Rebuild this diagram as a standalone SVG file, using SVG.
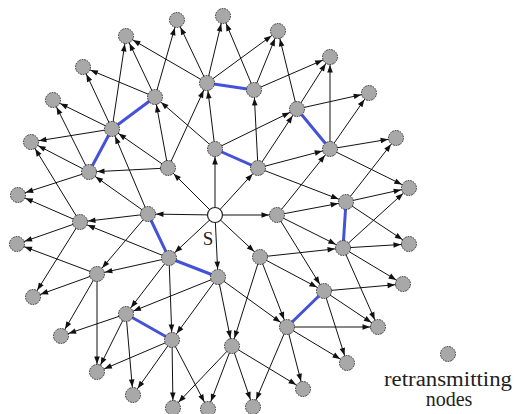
<svg xmlns="http://www.w3.org/2000/svg" width="515" height="414" viewBox="0 0 515 414">
<style>
.e{stroke:#111;stroke-width:1;fill:none;marker-end:url(#ah)}
.b{stroke:#4452d8;stroke-width:3;stroke-linecap:round}
.n{fill:#a8a8a8;stroke:#333;stroke-width:1;stroke-dasharray:1.6 1}
.s{fill:#fff;stroke:#222;stroke-width:1.2}
.t{font-family:"Liberation Serif","Times New Roman",serif;fill:#222}
</style>
<defs>
<marker id="ah" markerUnits="userSpaceOnUse" orient="auto" refX="0" refY="0" markerWidth="20" markerHeight="10" overflow="visible">
<path d="M-8,0 L-15.5,-2.8 L-15.5,2.8 Z" fill="#111"/>
</marker>
</defs>
<rect width="515" height="414" fill="#fff"/>
<g id="connectors">
<!-- S -->
<line class="e" x1="215" y1="215" x2="215" y2="149"/>
<line class="e" x1="215" y1="215" x2="258" y2="168"/>
<line class="e" x1="215" y1="215" x2="168" y2="168"/>
<line class="e" x1="215" y1="215" x2="148" y2="214"/>
<line class="e" x1="215" y1="215" x2="169" y2="258"/>
<line class="e" x1="215" y1="215" x2="218" y2="277"/>
<line class="e" x1="215" y1="215" x2="260" y2="257"/>
<line class="e" x1="215" y1="215" x2="277" y2="215"/>
<!-- ring 1 -->
<line class="e" x1="215" y1="149" x2="155" y2="97"/>
<line class="e" x1="215" y1="149" x2="207" y2="83"/>
<line class="e" x1="215" y1="149" x2="297" y2="109"/>
<line class="e" x1="258" y1="168" x2="254" y2="90"/>
<line class="e" x1="258" y1="168" x2="297" y2="109"/>
<line class="e" x1="258" y1="168" x2="330" y2="149"/>
<line class="e" x1="258" y1="168" x2="346" y2="202"/>
<line class="e" x1="168" y1="168" x2="155" y2="97"/>
<line class="e" x1="168" y1="168" x2="207" y2="83"/>
<line class="e" x1="168" y1="168" x2="89" y2="172"/>
<line class="e" x1="168" y1="168" x2="112" y2="129"/>
<line class="e" x1="148" y1="214" x2="112" y2="129"/>
<line class="e" x1="148" y1="214" x2="89" y2="172"/>
<line class="e" x1="148" y1="214" x2="80" y2="222"/>
<line class="e" x1="148" y1="214" x2="97" y2="274"/>
<line class="e" x1="169" y1="258" x2="80" y2="222"/>
<line class="e" x1="169" y1="258" x2="97" y2="274"/>
<line class="e" x1="169" y1="258" x2="126" y2="314"/>
<line class="e" x1="169" y1="258" x2="172" y2="340"/>
<line class="e" x1="218" y1="277" x2="126" y2="314"/>
<line class="e" x1="218" y1="277" x2="172" y2="340"/>
<line class="e" x1="218" y1="277" x2="232" y2="346"/>
<line class="e" x1="218" y1="277" x2="287" y2="327"/>
<line class="e" x1="260" y1="257" x2="343" y2="248"/>
<line class="e" x1="260" y1="257" x2="324" y2="291"/>
<line class="e" x1="260" y1="257" x2="287" y2="327"/>
<line class="e" x1="260" y1="257" x2="232" y2="346"/>
<line class="e" x1="277" y1="215" x2="330" y2="149"/>
<line class="e" x1="277" y1="215" x2="346" y2="202"/>
<line class="e" x1="277" y1="215" x2="343" y2="248"/>
<line class="e" x1="277" y1="215" x2="324" y2="291"/>
<!-- ring 2 -->
<line class="e" x1="155" y1="97" x2="177" y2="20"/>
<line class="e" x1="155" y1="97" x2="126" y2="36"/>
<line class="e" x1="155" y1="97" x2="83" y2="67"/>
<line class="e" x1="207" y1="83" x2="177" y2="20"/>
<line class="e" x1="207" y1="83" x2="223" y2="16"/>
<line class="e" x1="207" y1="83" x2="126" y2="36"/>
<line class="e" x1="207" y1="83" x2="278" y2="31"/>
<line class="e" x1="254" y1="90" x2="223" y2="16"/>
<line class="e" x1="254" y1="90" x2="278" y2="31"/>
<line class="e" x1="254" y1="90" x2="330" y2="57"/>
<line class="e" x1="297" y1="109" x2="278" y2="31"/>
<line class="e" x1="297" y1="109" x2="330" y2="57"/>
<line class="e" x1="297" y1="109" x2="369" y2="93"/>
<line class="e" x1="330" y1="149" x2="330" y2="57"/>
<line class="e" x1="330" y1="149" x2="369" y2="93"/>
<line class="e" x1="330" y1="149" x2="396" y2="138"/>
<line class="e" x1="330" y1="149" x2="409" y2="188"/>
<line class="e" x1="346" y1="202" x2="396" y2="138"/>
<line class="e" x1="346" y1="202" x2="409" y2="188"/>
<line class="e" x1="346" y1="202" x2="409" y2="244"/>
<line class="e" x1="343" y1="248" x2="409" y2="188"/>
<line class="e" x1="343" y1="248" x2="409" y2="244"/>
<line class="e" x1="343" y1="248" x2="403" y2="284"/>
<line class="e" x1="343" y1="248" x2="378" y2="327"/>
<line class="e" x1="324" y1="291" x2="403" y2="284"/>
<line class="e" x1="324" y1="291" x2="378" y2="327"/>
<line class="e" x1="324" y1="291" x2="347" y2="363"/>
<line class="e" x1="287" y1="327" x2="378" y2="327"/>
<line class="e" x1="287" y1="327" x2="347" y2="363"/>
<line class="e" x1="287" y1="327" x2="303" y2="389"/>
<line class="e" x1="287" y1="327" x2="253" y2="407"/>
<line class="e" x1="232" y1="346" x2="303" y2="389"/>
<line class="e" x1="232" y1="346" x2="173" y2="408"/>
<line class="e" x1="232" y1="346" x2="208" y2="409"/>
<line class="e" x1="232" y1="346" x2="253" y2="407"/>
<line class="e" x1="172" y1="340" x2="97" y2="372"/>
<line class="e" x1="172" y1="340" x2="133" y2="395"/>
<line class="e" x1="172" y1="340" x2="173" y2="408"/>
<line class="e" x1="172" y1="340" x2="208" y2="409"/>
<line class="e" x1="126" y1="314" x2="61" y2="336"/>
<line class="e" x1="126" y1="314" x2="97" y2="372"/>
<line class="e" x1="126" y1="314" x2="133" y2="395"/>
<line class="e" x1="97" y1="274" x2="17" y2="244"/>
<line class="e" x1="97" y1="274" x2="33" y2="297"/>
<line class="e" x1="97" y1="274" x2="61" y2="336"/>
<line class="e" x1="97" y1="274" x2="97" y2="372"/>
<line class="e" x1="80" y1="222" x2="31" y2="142"/>
<line class="e" x1="80" y1="222" x2="18" y2="195"/>
<line class="e" x1="80" y1="222" x2="17" y2="244"/>
<line class="e" x1="80" y1="222" x2="33" y2="297"/>
<line class="e" x1="89" y1="172" x2="53" y2="100"/>
<line class="e" x1="89" y1="172" x2="31" y2="142"/>
<line class="e" x1="89" y1="172" x2="18" y2="195"/>
<line class="e" x1="112" y1="129" x2="126" y2="36"/>
<line class="e" x1="112" y1="129" x2="83" y2="67"/>
<line class="e" x1="112" y1="129" x2="53" y2="100"/>
<line class="e" x1="112" y1="129" x2="31" y2="142"/>
<!-- blue retransmission links -->
<line class="b" x1="155" y1="97" x2="112" y2="129"/>
<line class="b" x1="112" y1="129" x2="89" y2="172"/>
<line class="b" x1="207" y1="83" x2="254" y2="90"/>
<line class="b" x1="297" y1="109" x2="330" y2="149"/>
<line class="b" x1="215" y1="149" x2="258" y2="168"/>
<line class="b" x1="148" y1="214" x2="169" y2="258"/>
<line class="b" x1="169" y1="258" x2="218" y2="277"/>
<line class="b" x1="346" y1="202" x2="343" y2="248"/>
<line class="b" x1="324" y1="291" x2="287" y2="327"/>
<line class="b" x1="126" y1="314" x2="172" y2="340"/>
</g>
<g id="nodes">
<g id="n1"><circle class="n" cx="177" cy="20" r="7.5"/></g>
<g id="n2"><circle class="n" cx="223" cy="16" r="7.5"/></g>
<g id="n3"><circle class="n" cx="126" cy="36" r="7.5"/></g>
<g id="n4"><circle class="n" cx="278" cy="31" r="7.5"/></g>
<g id="n5"><circle class="n" cx="330" cy="57" r="7.5"/></g>
<g id="n6"><circle class="n" cx="83" cy="67" r="7.5"/></g>
<g id="n7"><circle class="n" cx="53" cy="100" r="7.5"/></g>
<g id="n8"><circle class="n" cx="155" cy="97" r="7.5"/></g>
<g id="n9"><circle class="n" cx="207" cy="83" r="7.5"/></g>
<g id="n10"><circle class="n" cx="254" cy="90" r="7.5"/></g>
<g id="n11"><circle class="n" cx="297" cy="109" r="7.5"/></g>
<g id="n12"><circle class="n" cx="369" cy="93" r="7.5"/></g>
<g id="n13"><circle class="n" cx="112" cy="129" r="7.5"/></g>
<g id="n14"><circle class="n" cx="396" cy="138" r="7.5"/></g>
<g id="n15"><circle class="n" cx="31" cy="142" r="7.5"/></g>
<g id="n16"><circle class="n" cx="330" cy="149" r="7.5"/></g>
<g id="n17"><circle class="n" cx="215" cy="149" r="7.5"/></g>
<g id="n18"><circle class="n" cx="258" cy="168" r="7.5"/></g>
<g id="n19"><circle class="n" cx="168" cy="168" r="7.5"/></g>
<g id="n20"><circle class="n" cx="89" cy="172" r="7.5"/></g>
<g id="n21"><circle class="n" cx="18" cy="195" r="7.5"/></g>
<g id="n22"><circle class="n" cx="346" cy="202" r="7.5"/></g>
<g id="n23"><circle class="n" cx="409" cy="188" r="7.5"/></g>
<g id="n24"><circle class="n" cx="148" cy="214" r="7.5"/></g>
<g id="n25"><circle class="n" cx="277" cy="215" r="7.5"/></g>
<g id="n26"><circle class="n" cx="80" cy="222" r="7.5"/></g>
<g id="n27"><circle class="n" cx="17" cy="244" r="7.5"/></g>
<g id="n28"><circle class="n" cx="409" cy="244" r="7.5"/></g>
<g id="n29"><circle class="n" cx="343" cy="248" r="7.5"/></g>
<g id="n30"><circle class="n" cx="260" cy="257" r="7.5"/></g>
<g id="n31"><circle class="n" cx="169" cy="258" r="7.5"/></g>
<g id="n32"><circle class="n" cx="97" cy="274" r="7.5"/></g>
<g id="n33"><circle class="n" cx="218" cy="277" r="7.5"/></g>
<g id="n34"><circle class="n" cx="403" cy="284" r="7.5"/></g>
<g id="n35"><circle class="n" cx="324" cy="291" r="7.5"/></g>
<g id="n36"><circle class="n" cx="33" cy="297" r="7.5"/></g>
<g id="n37"><circle class="n" cx="126" cy="314" r="7.5"/></g>
<g id="n38"><circle class="n" cx="287" cy="327" r="7.5"/></g>
<g id="n39"><circle class="n" cx="378" cy="327" r="7.5"/></g>
<g id="n40"><circle class="n" cx="61" cy="336" r="7.5"/></g>
<g id="n41"><circle class="n" cx="172" cy="340" r="7.5"/></g>
<g id="n42"><circle class="n" cx="232" cy="346" r="7.5"/></g>
<g id="n43"><circle class="n" cx="347" cy="363" r="7.5"/></g>
<g id="n44"><circle class="n" cx="97" cy="372" r="7.5"/></g>
<g id="n45"><circle class="n" cx="303" cy="389" r="7.5"/></g>
<g id="n46"><circle class="n" cx="133" cy="395" r="7.5"/></g>
<g id="n47"><circle class="n" cx="173" cy="408" r="7.5"/></g>
<g id="n48"><circle class="n" cx="208" cy="409" r="7.5"/></g>
<g id="n49"><circle class="n" cx="253" cy="407" r="7.5"/></g>
<g id="source"><circle class="s" cx="215" cy="215" r="7.5"/><text class="t" x="208" y="245" font-size="19" text-anchor="middle">S</text></g>
<g id="legend"><circle class="n" cx="448" cy="354" r="7.5"/><text class="t" x="448" y="386" font-size="20" text-anchor="middle" textLength="128" lengthAdjust="spacingAndGlyphs">retransmitting</text><text class="t" x="449" y="406" font-size="20" text-anchor="middle">nodes</text></g>
</g>
</svg>
